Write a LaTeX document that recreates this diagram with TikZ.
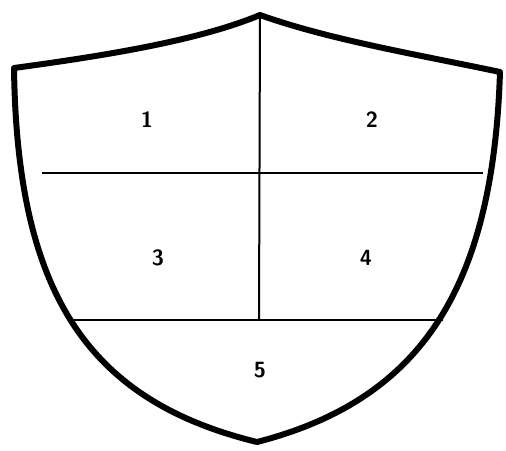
\documentclass[tikz,border=0pt]{standalone}
\begin{document}
\begin{tikzpicture}[x=1pt,y=-1pt,
  outline/.style={line width=6pt,line join=round,line cap=round},
  divider/.style={line width=2pt},
  num/.style={font=\sffamily\bfseries\fontsize{22}{22}\selectfont,inner sep=0pt}]
\useasboundingbox (0,0) rectangle (506,450);
\coordinate (tl) at (14,68);
\coordinate (peak) at (260,15);
\coordinate (tr) at (500,72);
\coordinate (bot) at (257,442);
\draw[outline] (tl) .. controls (110,55) and (200,40) .. (peak)
  .. controls (330,40) and (420,55) .. (tr)
  .. controls (493,290) and (420,400) .. (bot)
  .. controls (85,400) and (17,290) .. cycle;
\coordinate (hl) at (42,173);
\coordinate (hr) at (483,173);
\coordinate (vb) at (259,320);
\coordinate (bl) at (68,320);
\coordinate (br) at (443,320);
\draw[divider] (hl) -- (hr);
\draw[divider] (peak) -- (vb);
\draw[divider] (bl) -- (br);
\node[num] (n1) at (147,120) {1};
\node[num] (n2) at (372,120) {2};
\node[num] (n3) at (158,258) {3};
\node[num] (n4) at (366,258) {4};
\node[num] (n5) at (260,370) {5};
\end{tikzpicture}
\end{document}
